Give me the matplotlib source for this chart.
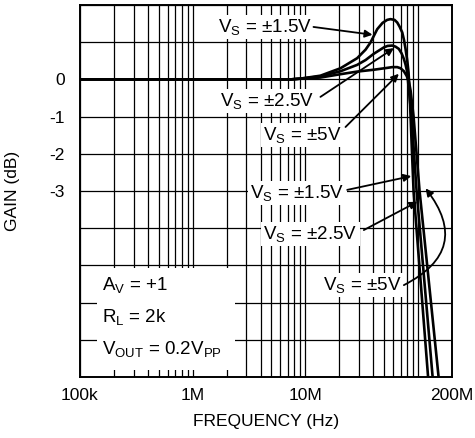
import numpy as np
import matplotlib
matplotlib.use('Agg')
import matplotlib.pyplot as plt
from matplotlib.patches import Rectangle
from matplotlib.ticker import NullFormatter

plt.rcParams['font.family'] = ['Liberation Sans', 'DejaVu Sans']
plt.rcParams['mathtext.fontset'] = 'custom'
plt.rcParams['mathtext.rm'] = 'Liberation Sans'
plt.rcParams['mathtext.it'] = 'Liberation Sans'

# ── data (frequency in MHz, gain in dB) ──────────────────────────────
f_15 = [0.1, 7.4, 9.0, 13.6, 20.5, 28.8, 34.2, 37.8, 43.4, 48.4, 53.2, 56.9, 61.8,
        65.3, 68.5, 72.4, 75.1, 77.4, 80.2, 82.3, 84.0, 85.8, 88.4, 91.2, 122.7, 126.0]
g_15 = [0, 0, 0.02, 0.1, 0.3, 0.57, 0.8, 0.99, 1.35, 1.52, 1.6, 1.62, 1.6,
        1.53, 1.42, 1.26, 1.05, 0.82, 0.5, 0.19, -0.3, -1.0, -2.0, -3.0, -8.0, -8.5]

f_25 = [0.1, 7.4, 9.0, 13.6, 20.5, 28.8, 34.2, 40.5, 49.7, 53.6, 59.0, 63.1, 67.5,
        71.4, 74.8, 77.4, 80.2, 82.3, 84.9, 87.5, 92.1, 97.0, 134.6, 138.0]
g_25 = [0, 0, 0.02, 0.08, 0.22, 0.39, 0.52, 0.69, 0.86, 0.9, 0.91, 0.88, 0.82,
        0.7, 0.55, 0.4, 0.19, -0.2, -0.6, -1.0, -2.0, -3.0, -8.0, -8.5]

f_5 = [0.1, 7.4, 9.0, 13.6, 20.5, 28.8, 40.5, 53.2, 59.0, 65.3, 69.9, 74.8, 79.0,
       82.8, 85.8, 91.2, 97.0, 103.1, 152.1, 156.0]
g_5 = [0, 0, 0.02, 0.05, 0.14, 0.21, 0.26, 0.31, 0.33, 0.33, 0.3, 0.22, 0.1,
       -0.05, -0.3, -1.0, -2.0, -3.0, -8.0, -8.5]

x_major = [1e5, 1e6, 1e7, 2e8]
x_labels = ['100k', '1M', '10M', '200M']
y_major = [0, -1, -2, -3]

fig = plt.figure(figsize=(4.75, 4.38), dpi=100)
ax = fig.add_axes([80 / 475, 1 - 377 / 438, 372 / 475, 372 / 438])

ax.set_xscale('log')
ax.set_xlim(1e5, 2e8)
ax.set_ylim(-8, 2)

# grid: every 1..9 per decade, every dB
minor_x = [m * 10 ** d for d in range(5, 9) for m in range(1, 10)
           if 1e5 < m * 10 ** d < 2e8 and m * 10 ** d not in x_major]
ax.set_xticks(x_major, x_labels)
ax.set_xticks(minor_x, minor=True)
ax.xaxis.set_minor_formatter(NullFormatter())
ax.set_yticks(y_major, [str(v) for v in y_major])
ax.set_yticks([v for v in range(-8, 3) if v not in y_major], minor=True)
ax.yaxis.set_minor_formatter(NullFormatter())
ax.grid(True, which='both', color='black', lw=0.9)
ax.set_axisbelow(True)
ax.tick_params(which='both', length=0)
ax.tick_params(axis='x', pad=8, labelsize=12.5)
ax.tick_params(axis='y', pad=11, labelsize=12.5)
for s in ax.spines.values():
    s.set_linewidth(1.4)

# curves
for f, g in [(f_15, g_15), (f_25, g_25), (f_5, g_5)]:
    ax.plot(np.array(f) * 1e6, g, color='black', lw=1.9, zorder=3,
            solid_joinstyle='round')

ax.set_xlabel('FREQUENCY (Hz)', fontsize=12.5, labelpad=8)
ax.set_ylabel('GAIN (dB)', fontsize=12.5)
ax.yaxis.set_label_coords(-0.16, 0.5)

# annotations
box = dict(boxstyle='square,pad=0.12', fc='white', ec='none')
tfs = 13.5
labels = [
    (r'V$_\mathrm{S}$ = ±1.5V', 1.685e6, 1.27),
    (r'V$_\mathrm{S}$ = ±2.5V', 1.755e6, -0.72),
    (r'V$_\mathrm{S}$ = ±5V', 4.23e6, -1.63),
    (r'V$_\mathrm{S}$ = ±1.5V', 3.24e6, -3.19),
    (r'V$_\mathrm{S}$ = ±2.5V', 4.23e6, -4.29),
    (r'V$_\mathrm{S}$ = ±5V', 14.2e6, -5.66),
]
for txt, x, y in labels:
    ax.text(x, y, txt, fontsize=tfs, ha='left', va='baseline', bbox=box, zorder=2)

arrows = [
    ((11.8e6, 1.41), (39.4e6, 1.2), 'arc3'),
    ((13.6e6, -0.47), (61.0e6, 0.84), 'arc3'),
    ((22.7e6, -1.28), (67.5e6, 0.15), 'arc3'),
    ((23.5e6, -2.97), (87.0e6, -2.6), 'arc3'),
    ((33.0e6, -4.05), (98.4e6, -3.29), 'arc3'),
    ((74.8e6, -5.53), (116.6e6, -2.93), 'arc3,rad=0.6'),
]
for start, end, cs in arrows:
    ax.annotate('', xy=end, xytext=start, zorder=4,
                arrowprops=dict(arrowstyle='-|>', color='black', lw=1.3,
                                mutation_scale=11, shrinkA=0, shrinkB=0,
                                connectionstyle=cs))

# conditions box
ax.add_patch(Rectangle(((97 - 80) / 372, (377 - 370) / 372), 138 / 372, 102 / 372,
                       transform=ax.transAxes, fc='white', ec='none', zorder=1.5))
cond = [r'A$_\mathrm{V}$ = +1', r'R$_\mathrm{L}$ = 2k', r'V$_\mathrm{OUT}$ = 0.2V$_\mathrm{PP}$']
for i, txt in enumerate(cond):
    ax.text(1.56e5, -5.66 - 0.855 * i, txt, fontsize=tfs, ha='left', va='baseline', zorder=2)

fig.savefig('out.png', dpi=100)
